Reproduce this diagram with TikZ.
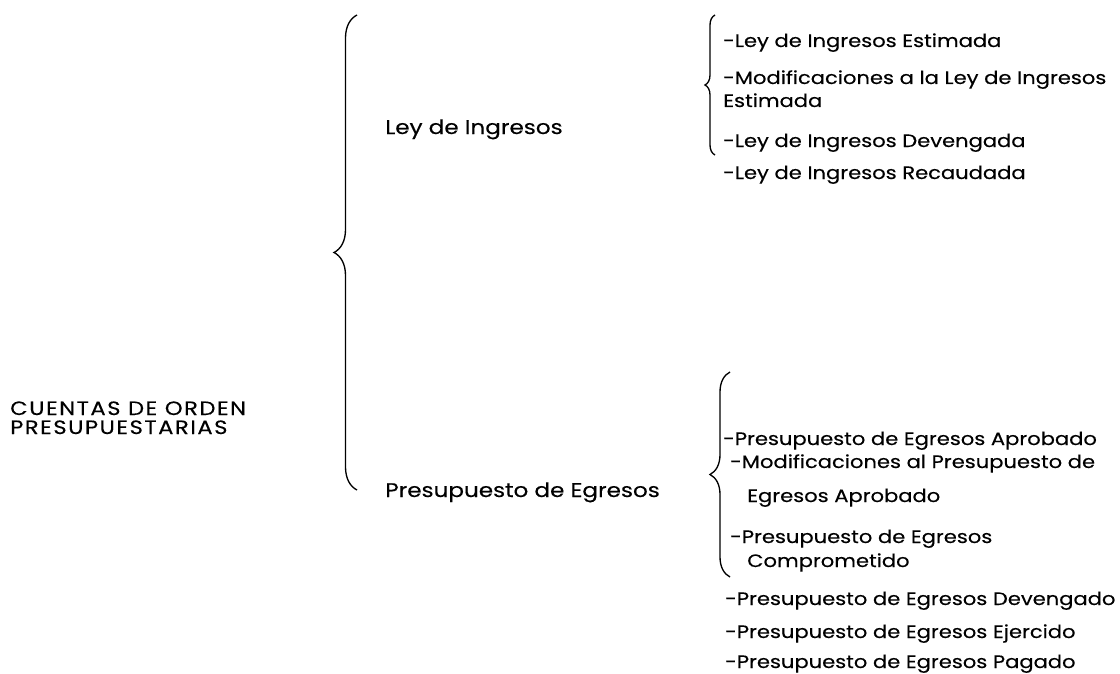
\documentclass[tikz,border=0pt]{standalone}
\usepackage{fontspec}
\setmainfont{Poppins}[FakeStretch=1.17,FakeBold=0.3]
\usetikzlibrary{decorations.pathreplacing}

\begin{document}
\begin{tikzpicture}[x=0.75pt,y=-0.75pt,
  llave/.style={decorate,decoration={brace,amplitude=#1},line width=1pt},
  titulo/.style={anchor=base west,inner sep=0pt,font=\fontsize{14.8}{18}\selectfont},
  item/.style={anchor=base west,inner sep=0pt,font=\fontsize{13.5}{16}\selectfont}]
  \useasboundingbox (0,0) rectangle (1120,674);
  % raiz
  \node[titulo,font=\fontsize{14.5}{17}\selectfont\addfontfeature{LetterSpace=8}] (raiz) at (10,415) {CUENTAS DE ORDEN};
  \node[titulo,font=\fontsize{14.5}{17}\selectfont\addfontfeature{LetterSpace=8}] (raiz2) at (10,434) {PRESUPUESTARIAS};
  \draw[llave=17.25pt] (357,490) -- (357,15);
  \node[titulo] (ingresos) at (385,134) {Ley de Ingresos};
  \node[titulo] (egresos) at (385,497) {Presupuesto de Egresos};
  % ley de ingresos
  \draw[llave=7.5pt] (715,155) -- (715,15);
  \foreach \y/\t [count=\i] in {47/-Ley de Ingresos Estimada,
      84/-Modificaciones a la Ley de Ingresos, 107/Estimada,
      147/-Ley de Ingresos Devengada, 179/-Ley de Ingresos Recaudada}
    \node[item] (ing\i) at (723,\y) {\t};
  % presupuesto de egresos
  \draw[llave=15pt] (730,577) -- (730,372);
  \foreach \x/\y/\t [count=\i] in {723/445/-Presupuesto de Egresos Aprobado,
      730/468/-Modificaciones al Presupuesto de, 747/502/Egresos Aprobado,
      730/543/-Presupuesto de Egresos, 747/567/Comprometido,
      725/605/-Presupuesto de Egresos Devengado,
      725/638/-Presupuesto de Egresos Ejercido,
      725/668/-Presupuesto de Egresos Pagado}
    \node[item] (egr\i) at (\x,\y) {\t};
\end{tikzpicture}
\end{document}
